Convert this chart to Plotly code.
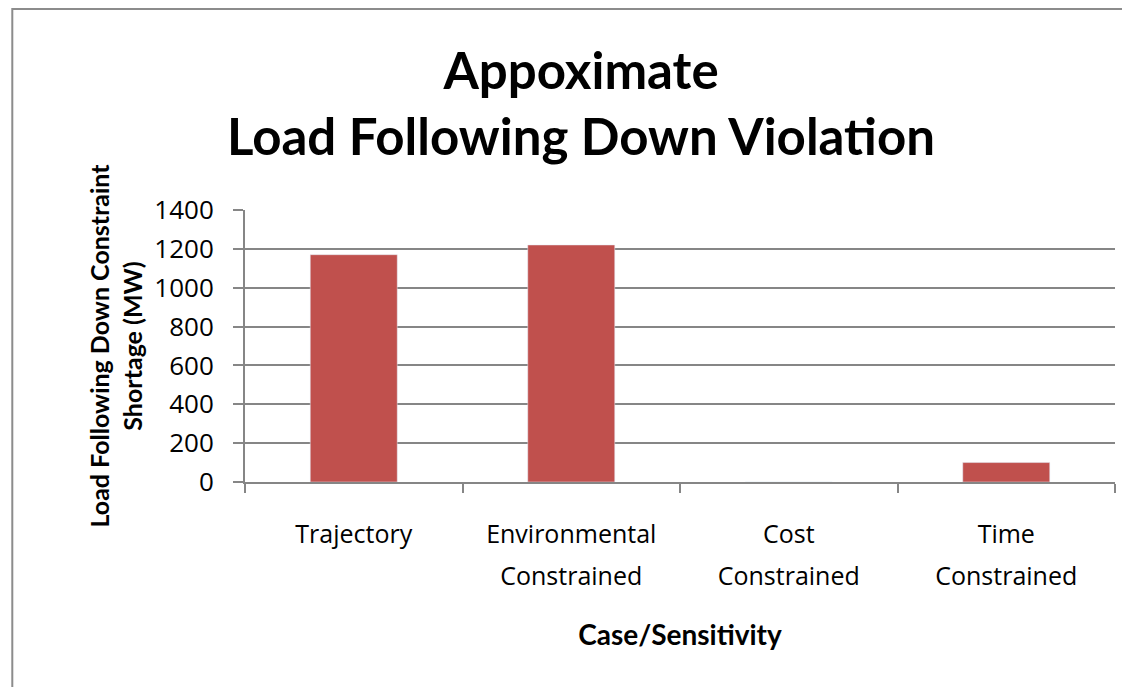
import plotly.graph_objects as go

categories = ["Trajectory", "Environmental Constrained", "Cost Constrained", "Time Constrained"]
label_line1 = ["Trajectory", "Environmental", "Cost", "Time"]
label_line2 = ["", "Constrained", "Constrained", "Constrained"]
values = [1170, 1220, 0, 100]
y_ticks = [0, 200, 400, 600, 800, 1000, 1200, 1400]

# the page body adds an 8px offset; figure sized to fit the window
W, H = 1122, 679
L, R, T, B = 237, 1107, 202, 474

fig = go.Figure()
fig.add_trace(go.Bar(x=categories, y=values, marker=dict(color="#C0504D", line=dict(width=0)),
                     width=0.4, hoverinfo="x+y"))
# invisible copy on a second x axis that carries the second line of each category label
fig.add_trace(go.Bar(x=categories, y=values, xaxis="x2", marker=dict(color="rgba(0,0,0,0)"),
                     width=0.4, hoverinfo="skip", showlegend=False))

def px_x(p):
    return (p - L) / (R - L)

def px_y(p):
    return (B - p) / (B - T)

fig.add_shape(type="rect", xref="paper", yref="paper",
              x0=px_x(4.3), x1=px_x(1140), y0=px_y(1.0), y1=px_y(700),
              line=dict(color="#8c8c8c", width=2), fillcolor="rgba(0,0,0,0)", layer="below")

tick_font = dict(size=25, family="Open Sans", color="black")
s1 = 29

fig.update_layout(
    width=W, height=H,
    margin=dict(l=L, r=W - R, t=T, b=H - B, pad=0),
    paper_bgcolor="white", plot_bgcolor="white",
    font=dict(family="Lato", color="black"),
    showlegend=False,
    title=dict(text="<b>Appoximate<br>Load Following Down Violation</b>",
               x=573 / W, xanchor="center", xref="container",
               y=1 - 81 / H, yanchor="top", yref="container",
               font=dict(size=51, family="Lato", color="black")),
    bargap=0.6,
    xaxis=dict(
        type="category", categoryorder="array", categoryarray=categories,
        tickvals=categories, ticktext=label_line1,
        showline=True, linecolor="#868686", linewidth=2,
        ticks="outside", tickson="boundaries", ticklen=9, tickwidth=2, tickcolor="#868686",
        tickfont=tick_font, ticklabelstandoff=s1,
        title=dict(text="<b>Case/Sensitivity</b>", font=dict(size=28, family="Lato"), standoff=76),
        showgrid=False,
    ),
    xaxis2=dict(
        type="category", categoryorder="array", categoryarray=categories,
        tickvals=categories, ticktext=label_line2,
        overlaying="x", matches="x", anchor="y", side="bottom",
        showline=False, showgrid=False,
        ticks="outside", ticklen=9, tickwidth=0, tickcolor="rgba(0,0,0,0)",
        tickfont=tick_font, ticklabelstandoff=s1 + 34,
    ),
    yaxis=dict(
        range=[0, 1400], tickvals=y_ticks,
        showline=True, linecolor="#868686", linewidth=2,
        ticks="outside", ticklen=10, tickwidth=2, tickcolor="#868686",
        showgrid=True, gridcolor="#868686", gridwidth=2,
        zeroline=False,
        tickfont=dict(size=26, family="Open Sans", color="black"), ticklabelstandoff=14,
        title=dict(text="<b>Load Following Down Constraint<br>Shortage (MW)</b>",
                   font=dict(size=25, family="Lato"), standoff=5),
    ),
)

fig.write_html("out.html")
